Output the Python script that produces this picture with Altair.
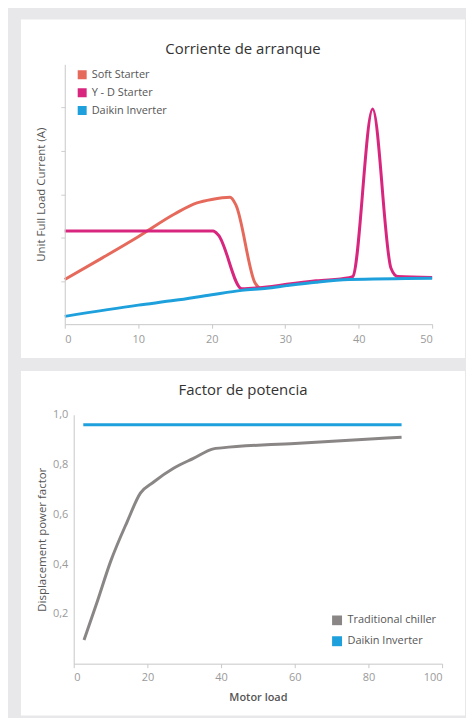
import altair as alt
import pandas as pd

# ---------------- data: top chart (Corriente de arranque) ----------------
top_series = ["Soft Starter", "Y - D Starter", "Daikin Inverter"]
top_colors = ["#e66a5c", "#d8267f", "#1ea0dc"]

soft_x = [0, 5, 10, 15, 18, 20, 22.5, 23.3, 25.9, 26.6]
soft_y = [1.03, 1.52, 2.02, 2.55, 2.8, 2.88, 2.93, 2.75, 0.95, 0.82]

yd_x = [0, 10, 20.2, 20.9, 24.1, 27.5, 30.2, 34.2, 38.7, 39.2, 41.9, 44.4, 45.3, 50]
yd_y = [2.15, 2.15, 2.15, 2.06, 0.82, 0.86, 0.92, 1.0, 1.07, 1.1, 4.97, 1.29, 1.1, 1.08]

inv_x = [0, 10, 15, 20, 24.1, 27.5, 30.2, 34.2, 38.7, 50]
inv_y = [0.18, 0.44, 0.55, 0.68, 0.78, 0.83, 0.89, 0.97, 1.03, 1.06]

top_xticks = [0, 10, 20, 30, 40, 50]
top_yticks = [1, 2, 3, 4, 5]

# ---------------- data: bottom chart (Factor de potencia) ----------------
bot_series = ["Traditional chiller", "Daikin Inverter"]
bot_colors = ["#8a8686", "#1ea0dc"]

trad_x = [2.8, 6.4, 10, 14.5, 18.1, 21.7, 27.1, 32.5, 37.9, 40.2, 60, 89]
trad_y = [0.095, 0.25, 0.41, 0.57, 0.685, 0.73, 0.785, 0.825, 0.863, 0.867, 0.885, 0.91]

dinv_x = [2.6, 89]
dinv_y = [0.96, 0.96]

bot_xticks = [0, 20, 40, 60, 80, 100]
bot_yticks = [0.2, 0.4, 0.6, 0.8, 1.0]

FONT = "Open Sans"
# solid square legend symbol drawn with the line's stroke (nested squares)
SQUARE = "M-1,-1H1V1H-1Z M-0.2,-0.2H0.2V0.2H-0.2Z"

top_df = pd.concat([
    pd.DataFrame({"load": soft_x, "current": soft_y, "series": top_series[0]}),
    pd.DataFrame({"load": yd_x, "current": yd_y, "series": top_series[1]}),
    pd.DataFrame({"load": inv_x, "current": inv_y, "series": top_series[2]}),
])
bot_df = pd.concat([
    pd.DataFrame({"load": trad_x, "pf": trad_y, "series": bot_series[0]}),
    pd.DataFrame({"load": dinv_x, "pf": dinv_y, "series": bot_series[1]}),
])

panel = pd.DataFrame({"k": [0]})

# ---------------- top chart ----------------
top_bg = alt.Chart(panel).mark_rect(color="white").encode(
    x=alt.value(-53), x2=alt.value(393), y=alt.value(-45), y2=alt.value(295)
)

top_x = alt.X("load:Q", scale=alt.Scale(domain=[0, 50], range=[-9, 360], nice=False),
              axis=alt.Axis(values=top_xticks, title=None, grid=False, tickSize=4, zindex=1,
                            labelPadding=5, labelFontSize=11, labelColor="#9a9a9a",
                            domainColor="#c8c8c8", tickColor="#c8c8c8", labelFont=FONT))
top_y = alt.Y("current:Q", scale=alt.Scale(domain=[0, 6], nice=False),
              axis=alt.Axis(values=top_yticks, labels=False, grid=False, tickSize=4, zindex=1,
                            offset=9,
                            title="Unit Full Load Current (A)", titleFontSize=11.5,
                            titleFontWeight="normal", titleColor="#555555", titleFont=FONT,
                            titlePadding=14, domainColor="#c8c8c8", tickColor="#d0d0d0"))
top_color_scale = alt.Scale(domain=top_series, range=top_colors)

top_lines = alt.Chart(top_df).mark_line(interpolate="monotone").encode(
    x=top_x, y=top_y,
    color=alt.Color("series:N", scale=top_color_scale, sort=top_series,
                    legend=alt.Legend(title=None, orient="none", legendX=3, legendY=5, zindex=1,
                                      symbolType=SQUARE, symbolSize=36,
                                      labelFontSize=11, labelColor="#555555", labelFont=FONT,
                                      clipHeight=11, rowPadding=6, labelOffset=4))
)

top = alt.layer(top_bg, top_lines).properties(
    width=360, height=261,
    title=alt.TitleParams("Corriente de arranque", fontSize=15, font=FONT, fontWeight="normal",
                          color="#333333", anchor="middle", frame="group", offset=-38, dx=-10)
)

# ---------------- bottom chart ----------------
bot_bg = alt.Chart(panel).mark_rect(color="white").encode(
    x=alt.value(-53), x2=alt.value(393), y=alt.value(-44), y2=alt.value(302)
)

bot_x = alt.X("load:Q", scale=alt.Scale(domain=[0, 100], nice=False),
              axis=alt.Axis(values=bot_xticks, title="Motor load", grid=False, tickSize=4, zindex=1,
                            labelPadding=4, labelFontSize=11, labelColor="#9a9a9a", labelFont=FONT,
                            titleFontSize=11, titleFontWeight=600, titleColor="#555555",
                            titleFont=FONT, titlePadding=9,
                            domainColor="#c8c8c8", tickColor="#c8c8c8"))
bot_y = alt.Y("pf:Q", scale=alt.Scale(domain=[0, 1], nice=False),
              axis=alt.Axis(values=bot_yticks, grid=False, tickSize=0, labelPadding=6, zindex=1,
                            labelExpr="replace(format(datum.value, '.1f'), '.', ',')",
                            labelFontSize=11, labelColor="#9a9a9a", labelFont=FONT,
                            title="Displacement power factor", titleFontSize=11.5,
                            titleFontWeight="normal", titleColor="#555555", titleFont=FONT,
                            titlePadding=5, domainColor="#c8c8c8"))
bot_color_scale = alt.Scale(domain=bot_series, range=bot_colors)

bot_lines = alt.Chart(bot_df).mark_line(interpolate="monotone").encode(
    x=bot_x, y=bot_y,
    color=alt.Color("series:N", scale=bot_color_scale, sort=bot_series,
                    legend=alt.Legend(title=None, orient="none", legendX=259, legendY=201, zindex=1,
                                      symbolType=SQUARE, symbolSize=49,
                                      labelFontSize=11, labelColor="#555555", labelFont=FONT,
                                      clipHeight=11, rowPadding=9, labelOffset=5))
)

bottom = alt.layer(bot_bg, bot_lines).properties(
    width=370, height=250,
    title=alt.TitleParams("Factor de potencia", fontSize=15, font=FONT, fontWeight="normal",
                          color="#333333", anchor="middle", frame="group", offset=-27, dx=-15)
)

chart = alt.vconcat(top, bottom, spacing=11).resolve_scale(
    color="independent"
).properties(
    padding={"top": 9, "left": 12, "right": 0, "bottom": 0}
).configure(background="#e8e8ea").configure_view(
    stroke="transparent"
).configure_line(strokeWidth=3)

chart.save("out.html", embed_options={"renderer": "svg", "actions": False})
